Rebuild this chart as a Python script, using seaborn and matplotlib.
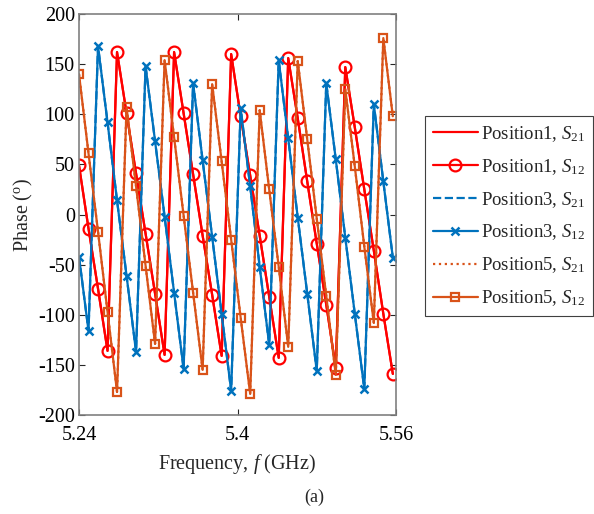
import numpy as np
import pandas as pd
import matplotlib
matplotlib.use("Agg")
import matplotlib.pyplot as plt
import seaborn as sns

# ---- data ----
freq_ghz = [5.24 + 0.0096 * k for k in range(34)]

pos1_s12 = [49, -14, -74, -136, 162, 101, 41, -19, -79, -140, 162, 101, 40, -21, -80, -141,
            160, 98, 39, -21, -82, -143, 156, 96, 33, -29, -90, -153, 147, 87, 25, -36, -99, -159]
pos3_s12 = [-42, -116, 168, 92, 14, -61, -137, 148, 73, -2, -78, -154, 131, 54, -22, -99,
            -176, 106, 28, -52, -130, 154, 76, -3, -79, -156, 131, 55, -23, -99, -174, 110, 33, -43]
pos5_s12 = [140, 61, -17, -97, -177, 107, 28, -51, -129, 154, 77, -1, -78, -155, 130, 53,
            -25, -103, -179, 104, 25, -52, -132, 153, 75, -4, -81, -160, 125, 48, -32, -108, 176, 98]
# S21 curves coincide with S12 curves in the picture
pos1_s21 = list(pos1_s12)
pos3_s21 = list(pos3_s12)
pos5_s21 = list(pos5_s12)

labels = ["Position1, $\\mathit{S}_{21}$", "Position1, $\\mathit{S}_{12}$",
          "Position3, $\\mathit{S}_{21}$", "Position3, $\\mathit{S}_{12}$",
          "Position5, $\\mathit{S}_{21}$", "Position5, $\\mathit{S}_{12}$"]
x_ticks = [5.24, 5.4, 5.56]
x_ticklabels = ["5.24", "5.4", "5.56"]
y_ticks = [-200, -150, -100, -50, 0, 50, 100, 150, 200]

# ---- style ----
sns.set_style("ticks")
plt.rcParams["font.family"] = ["Liberation Serif", "DejaVu Serif"]
plt.rcParams["mathtext.fontset"] = "custom"
plt.rcParams["mathtext.rm"] = "Liberation Serif"
plt.rcParams["mathtext.it"] = "Liberation Serif:italic"
plt.rcParams["axes.unicode_minus"] = False

RED = "#FF0000"
BLUE = "#0072BD"
ORANGE = "#D95319"
AX = "#262626"

fig = plt.figure(figsize=(5.94, 5.14), dpi=100)
ax = fig.add_axes([79 / 594, 1 - 415 / 514, (396 - 79) / 594, (415 - 14) / 514])

df = pd.DataFrame({"f": freq_ghz,
                   "p1s21": pos1_s21, "p1s12": pos1_s12,
                   "p3s21": pos3_s21, "p3s12": pos3_s12,
                   "p5s21": pos5_s21, "p5s12": pos5_s12})

lw = 1.6
specs = {
    "p1s21": dict(color=RED, linestyle="-"),
    "p1s12": dict(color=RED, linestyle="-", marker="o", markersize=8.5, markerfacecolor="none",
                  markeredgewidth=1.6, markeredgecolor=RED),
    "p3s21": dict(color=BLUE, linestyle="--"),
    "p3s12": dict(color=BLUE, linestyle="-", marker="x", markersize=6, markeredgewidth=1.8,
                  markeredgecolor=BLUE),
    "p5s21": dict(color=ORANGE, linestyle=":"),
    "p5s12": dict(color=ORANGE, linestyle="-", marker="s", markersize=6, markerfacecolor="none",
                  markeredgewidth=1.6, markeredgecolor=ORANGE),
}
order = ["p1s21", "p3s21", "p5s21", "p1s12", "p3s12", "p5s12"]
handles = {}
for key in order:
    n_before = len(ax.lines)
    sns.lineplot(data=df, x="f", y=key, ax=ax, sort=False, estimator=None,
                 linewidth=lw, legend=False, **specs[key])
    handles[key] = ax.lines[n_before]

ax.set_xlim(5.24, 5.56)
ax.set_ylim(-200, 200)
ax.set_xticks(x_ticks)
ax.set_xticklabels(x_ticklabels)
ax.set_yticks(y_ticks)
ax.tick_params(direction="in", top=True, right=True, length=4, width=0.8,
               colors=AX, labelsize=14.5, labelcolor="black")
ax.tick_params(axis="x", pad=8)
ax.tick_params(axis="y", pad=3)
for sp in ax.spines.values():
    sp.set_color("#808080")
    sp.set_linewidth(1.2)
    sp.set_visible(True)

ax.set_xlabel("Frequency, $\\mathit{f}$ (GHz)", fontsize=14.5, labelpad=5)
ax.set_ylabel("Phase ($^{\\mathregular{o}}$)", fontsize=14.5, labelpad=2)

leg_handles = [handles[k] for k in ["p1s21", "p1s12", "p3s21", "p3s12", "p5s21", "p5s12"]]
leg = fig.legend(leg_handles, labels, loc="upper left",
                 bbox_to_anchor=(425 / 594, 1 - 116 / 514),
                 frameon=True, fancybox=False, framealpha=1, edgecolor="#404040",
                 fontsize=13.5, handlelength=2.4, handletextpad=0.15,
                 labelspacing=0.7, borderpad=0.42, borderaxespad=0)
leg.get_frame().set_linewidth(0.8)

fig.text(314 / 594, 1 - 497 / 514, "(a)", ha="center", va="center", fontsize=13)

fig.savefig("out.png", dpi=100)
